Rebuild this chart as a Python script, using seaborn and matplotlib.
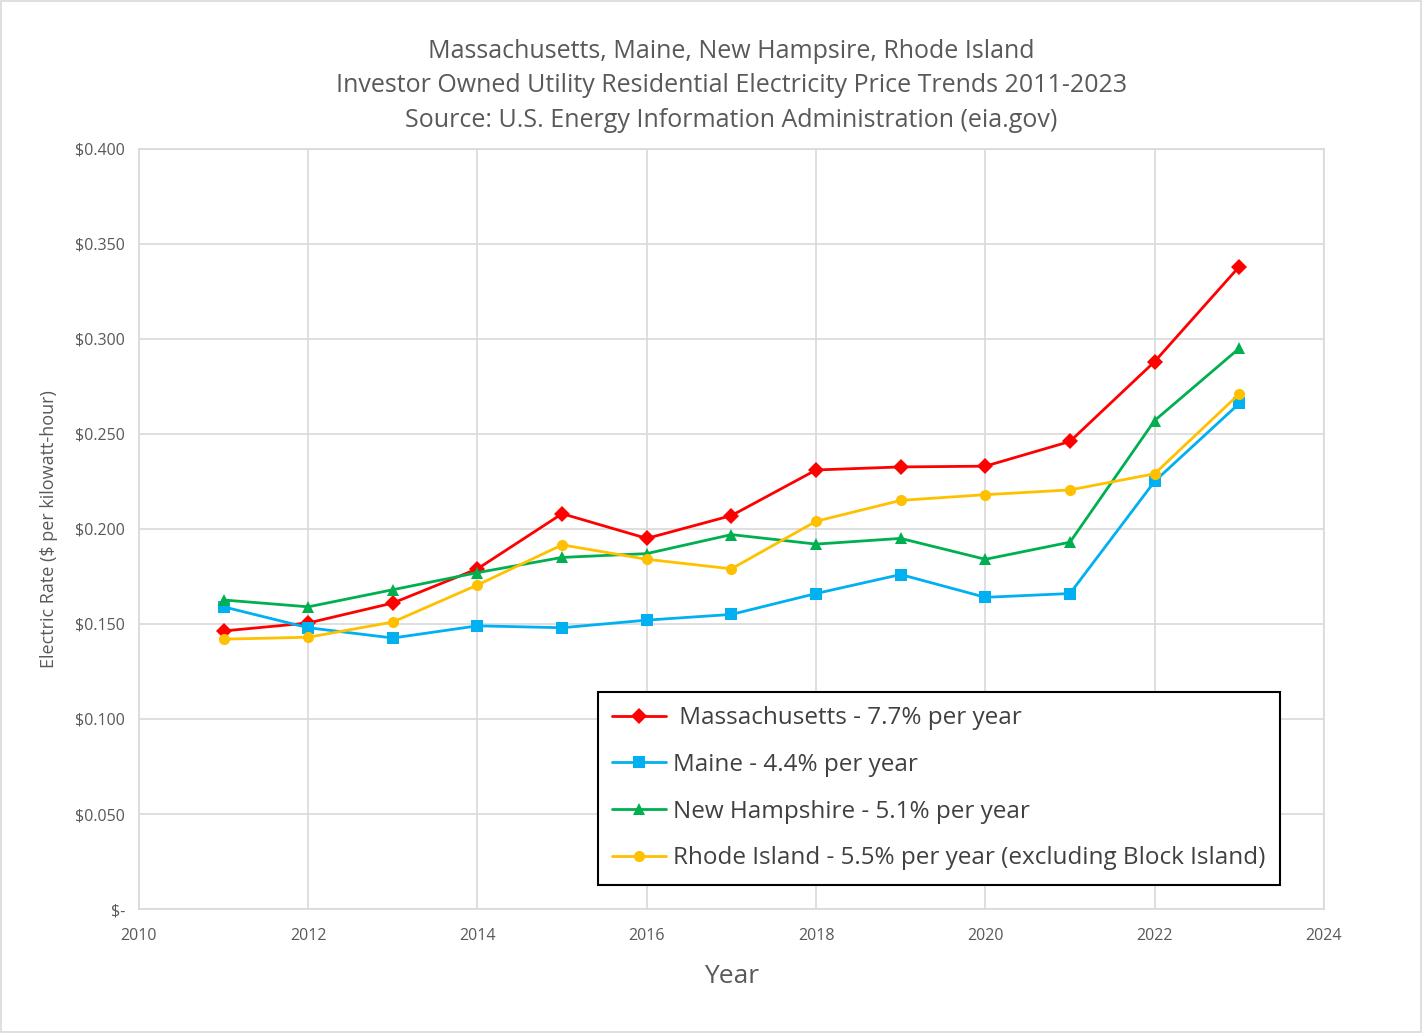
import matplotlib
matplotlib.use("Agg")
import matplotlib.pyplot as plt
import matplotlib.ticker as mticker
import pandas as pd
import seaborn as sns

years = list(range(2011, 2024))
massachusetts = [0.1463, 0.1505, 0.161, 0.179, 0.208, 0.195, 0.207, 0.231, 0.2326, 0.233, 0.246, 0.288, 0.338]
maine = [0.159, 0.148, 0.1426, 0.149, 0.148, 0.152, 0.155, 0.166, 0.176, 0.164, 0.166, 0.225, 0.266]
new_hampshire = [0.1626, 0.159, 0.168, 0.177, 0.185, 0.187, 0.197, 0.192, 0.195, 0.184, 0.193, 0.257, 0.295]
rhode_island = [0.142, 0.143, 0.151, 0.1705, 0.1916, 0.184, 0.179, 0.204, 0.215, 0.218, 0.2205, 0.229, 0.271]

labels = [" Massachusetts - 7.7% per year", "Maine - 4.4% per year",
          "New Hampshire - 5.1% per year", "Rhode Island - 5.5% per year (excluding Block Island)"]
series = [massachusetts, maine, new_hampshire, rhode_island]
colors = ["#FF0000", "#00B0F0", "#00B050", "#FFC000"]
markers = ["D", "s", "^", "o"]

rows = []
for lab, vals in zip(labels, series):
    for yr, v in zip(years, vals):
        rows.append({"Year": yr, "Rate": v, "State": lab})
df = pd.DataFrame(rows)

sns.set_style("white")
plt.rcParams["font.family"] = ["Open Sans", "DejaVu Sans"]

fig = plt.figure(figsize=(14.22, 10.33), dpi=100)
ax = fig.add_axes([0.0977, 0.120, 0.8333, 0.736])

sns.lineplot(data=df, x="Year", y="Rate", hue="State", style="State",
             palette=colors, markers=markers, dashes=False, linewidth=2,
             markersize=8, markeredgewidth=0, ax=ax)

ax.set_xlim(2010, 2024)
ax.set_ylim(0, 0.4)
ax.set_xticks(range(2010, 2025, 2))
ax.set_yticks([i * 0.05 for i in range(9)])

def money(v, pos):
    if abs(v) < 1e-9:
        return "$-"
    return f"${v:.3f}"

ax.yaxis.set_major_formatter(mticker.FuncFormatter(money))
ax.grid(True, color="#D9D9D9", linewidth=1.2)
for s in ax.spines.values():
    s.set_color("#D9D9D9")
    s.set_linewidth(1.2)
ax.tick_params(axis="both", length=0, labelsize=11.5, colors="#595959", pad=10)
ax.tick_params(axis="x", pad=14)

ax.set_xlabel("Year", fontsize=19, color="#595959", labelpad=14)
ax.set_ylabel("Electric Rate ($ per kilowatt-hour)", fontsize=13, color="#595959", labelpad=12)
ax.set_title("Massachusetts, Maine, New Hampsire, Rhode Island\n"
             "Investor Owned Utility Residential Electricity Price Trends 2011-2023\n"
             "Source: U.S. Energy Information Administration (eia.gov)",
             fontsize=18, color="#595959", linespacing=1.5, pad=16)

leg = ax.legend(loc="lower left", bbox_to_anchor=(0.377, 0.016), fontsize=17.5,
                frameon=True, fancybox=False, edgecolor="black", framealpha=1,
                handlelength=2.2, handletextpad=0.3, labelspacing=0.93,
                borderpad=0.6, labelcolor="#404040")
leg.get_frame().set_linewidth(1.5)

fig.patches.append(plt.Rectangle((0.001, 0.001), 0.998, 0.998, transform=fig.transFigure,
                                 fill=False, edgecolor="#D9D9D9", linewidth=1.2))

fig.savefig("out.png", dpi=100)
